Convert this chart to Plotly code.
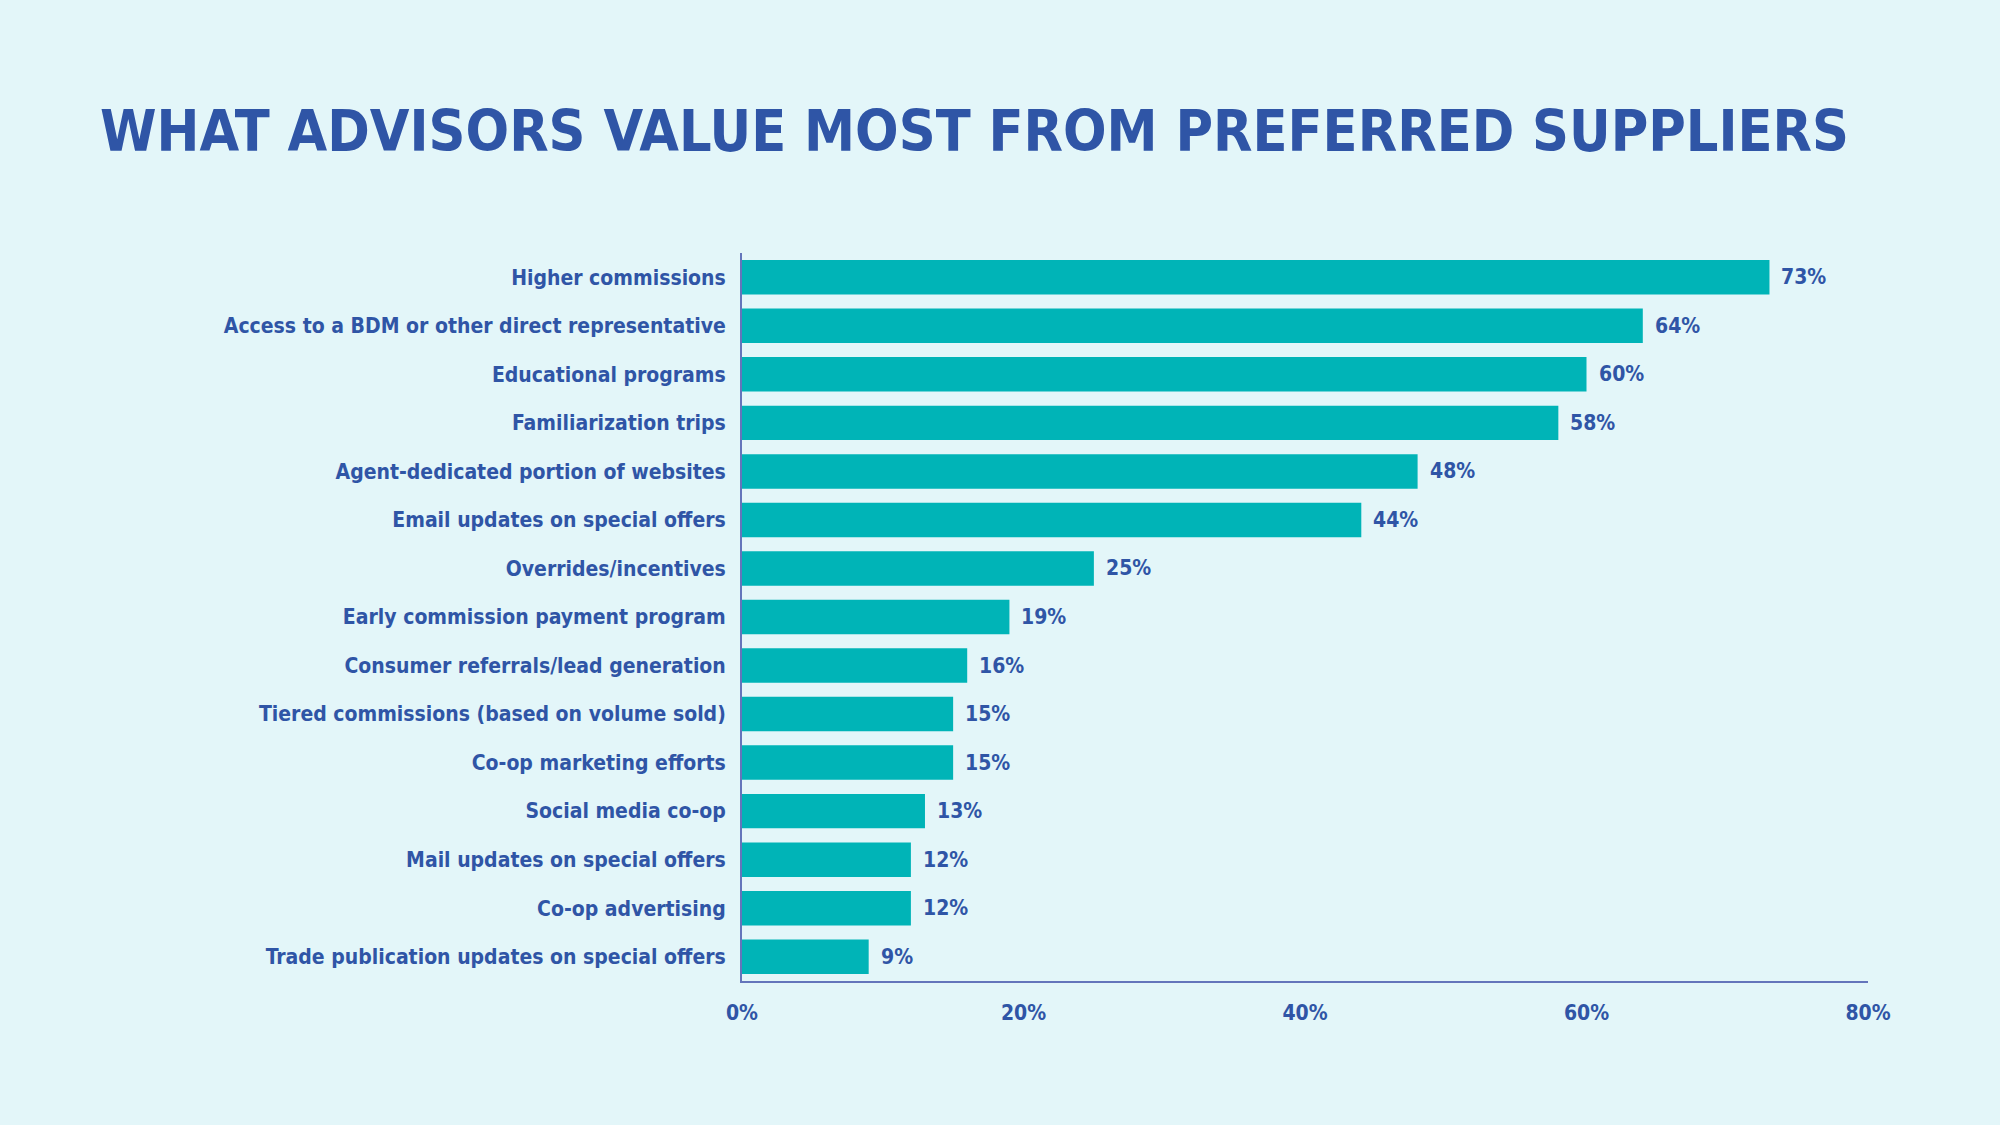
import plotly.graph_objects as go

categories = [
    "Higher commissions",
    "Access to a BDM or other direct representative",
    "Educational programs",
    "Familiarization trips",
    "Agent-dedicated portion of websites",
    "Email updates on special offers",
    "Overrides/incentives",
    "Early commission payment program",
    "Consumer referrals/lead generation",
    "Tiered commissions (based on volume sold)",
    "Co-op marketing efforts",
    "Social media co-op",
    "Mail updates on special offers",
    "Co-op advertising",
    "Trade publication updates on special offers",
]
values = [73, 64, 60, 58, 48, 44, 25, 19, 16, 15, 15, 13, 12, 12, 9]
tick_values = [0, 20, 40, 60, 80]
tick_labels = ["0%", "20%", "40%", "60%", "80%"]
title_text = "WHAT ADVISORS VALUE MOST FROM PREFERRED SUPPLIERS"

FONT = "DejaVu Sans Condensed, Liberation Sans Narrow, Arial Narrow, sans-serif"
TEXT_COLOR = "#2f55a6"
BAR_COLOR = "#00b4b7"
BG = "#e3f6f9"
AXIS_COLOR = "#6475bb"

fig = go.Figure()
fig.add_trace(go.Bar(
    x=values,
    y=categories,
    orientation="h",
    marker=dict(color=BAR_COLOR, line=dict(width=0)),
    hoverinfo="skip",
))

for c, v in zip(categories, values):
    fig.add_annotation(
        x=v, y=c, xref="x", yref="y",
        text=f"<b>{v}%</b>",
        showarrow=False, xanchor="left", yanchor="middle", xshift=10,
        font=dict(family=FONT, size=21, color=TEXT_COLOR),
    )

fig.update_layout(
    width=2000, height=1125,
    paper_bgcolor=BG, plot_bgcolor=BG,
    margin=dict(l=742, r=132, t=253, b=144),
    bargap=0.29,
    showlegend=False,
    title=dict(
        text=f"<b>{title_text}</b>",
        font=dict(family=FONT, size=57, color=TEXT_COLOR),
        x=0.05, xanchor="left", xref="container",
        y=1 - 131 / 1125, yanchor="middle", yref="container",
    ),
    font=dict(family=FONT, color=TEXT_COLOR),
)

fig.update_xaxes(
    range=[0, 80],
    tickvals=tick_values,
    ticktext=[f"<b>{t}</b>" for t in tick_labels],
    showgrid=False, zeroline=False,
    showline=True, linecolor=AXIS_COLOR, linewidth=2,
    ticks="", ticklabelstandoff=12,
    tickfont=dict(family=FONT, size=21, color=TEXT_COLOR),
    fixedrange=True,
)
fig.update_yaxes(
    autorange="reversed",
    tickvals=categories,
    ticktext=[f"<b>{c}</b>" for c in categories],
    showgrid=False, zeroline=False,
    showline=True, linecolor=AXIS_COLOR, linewidth=2,
    ticks="", ticklabelstandoff=10,
    tickfont=dict(family=FONT, size=21, color=TEXT_COLOR),
    fixedrange=True,
)

fig.write_html("out.html")
